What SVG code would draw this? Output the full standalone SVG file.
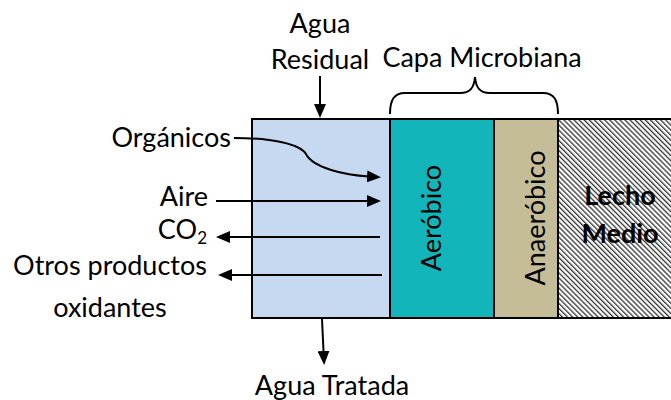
<svg xmlns="http://www.w3.org/2000/svg" width="671" height="400" viewBox="0 0 671 400">
<style>
  text { font-family: "Lato", "Liberation Sans", sans-serif; font-size: 27px; fill: #000; }
  .b { font-weight: bold; }
  .c { text-anchor: middle; }
  .r { text-anchor: end; }
  .ln { stroke: #000; stroke-width: 2; fill: none; }
  .box { stroke: #000; stroke-width: 2; }
</style>
<defs>
  <marker id="ah" viewBox="0 0 14 12" markerWidth="14" markerHeight="12" refX="2" refY="6" orient="auto" markerUnits="userSpaceOnUse">
    <path d="M0,0 L14,6 L0,12 z" fill="#000"/>
  </marker>
  <pattern id="hatch" width="3.6" height="10" patternUnits="userSpaceOnUse" patternTransform="rotate(-45)">
    <rect x="0" y="0" width="3.6" height="10" fill="#fff"/>
    <rect x="0" y="0" width="1.3" height="10" fill="#333"/>
  </pattern>
</defs>

<g id="node-agua-residual">
  <text class="c" x="320" y="33">Agua</text>
  <text class="c" x="320" y="69">Residual</text>
</g>

<g id="node-capa-microbiana">
  <text class="c" x="482" y="67">Capa Microbiana</text>
  <path class="ln" d="M390,114 C390,100 394,93 405,93 L460,93 C470,93 474,88 475,77 C476,88 480,93 490,93 L543,93 C554,93 558,100 558,114"/>
</g>

<g id="node-agua">
  <rect class="box" x="252" y="119" width="138" height="199" fill="#c6d9f1"/>
</g>

<g id="node-aerobico">
  <rect class="box" x="390" y="119" width="104" height="199" fill="#12b5b9"/>
  <text class="c" transform="translate(441,218) rotate(-90)">Aeróbico</text>
</g>

<g id="node-anaerobico">
  <rect class="box" x="494" y="119" width="64" height="199" fill="#c4bd97"/>
  <text class="c" transform="translate(545,218) rotate(-90)">Anaeróbico</text>
</g>

<g id="node-lecho-medio">
  <rect x="558" y="119" width="114" height="199" fill="url(#hatch)"/>
  <path class="ln" d="M558,119 L672,119 M558,318 L672,318 M558,119 L558,318"/>
  <text class="c b" x="620" y="205">Lecho</text>
  <text class="c b" x="620" y="243">Medio</text>
</g>

<g id="node-organicos"><text class="r" x="231" y="147">Orgánicos</text></g>
<g id="node-aire"><text class="r" x="208" y="206">Aire</text></g>
<g id="node-co2"><text class="r" x="207" y="239">CO<tspan font-size="17" dy="5">2</tspan></text></g>
<g id="node-otros">
  <text class="c" x="110" y="275">Otros productos</text>
  <text class="c" x="110" y="317">oxidantes</text>
</g>
<g id="node-agua-tratada"><text class="c" x="332" y="395">Agua Tratada</text></g>

<g id="connectors">
  <line class="ln" x1="320" y1="76" x2="320" y2="106" marker-end="url(#ah)"/>
  <path class="ln" d="M234,138 C272,138 300,144 306,154 C313,168 345,175 369,176.5" marker-end="url(#ah)"/>
  <line class="ln" x1="216" y1="201" x2="369" y2="201" marker-end="url(#ah)"/>
  <line class="ln" x1="380" y1="237" x2="228" y2="237" marker-end="url(#ah)"/>
  <line class="ln" x1="382" y1="275" x2="230" y2="275" marker-end="url(#ah)"/>
  <line class="ln" x1="322" y1="319" x2="323.6" y2="353" marker-end="url(#ah)"/>
</g>
</svg>
